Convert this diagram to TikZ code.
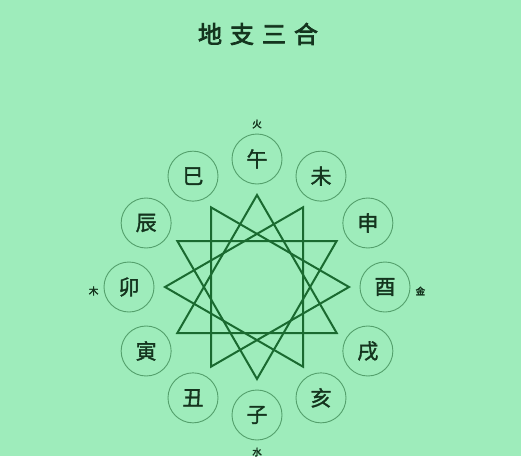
\documentclass[tikz,border=0pt]{standalone}
\usepackage{fontspec}
\newfontfamily\cjk{Noto Sans CJK SC}[FakeBold=1.5]
\newfontfamily\cjkheavy{Noto Sans CJK SC}[FakeBold=3]
\usetikzlibrary{calc}
\usetikzlibrary{positioning}
\definecolor{bgGreen}{RGB}{158,236,187}
\definecolor{starGreen}{RGB}{26,106,48}
\definecolor{ringGreen}{RGB}{84,160,108}
\definecolor{inkGreen}{RGB}{20,52,30}

\begin{document}
\begin{tikzpicture}[x=1pt,y=1pt,
    every node/.style={inner sep=0pt},
    branch/.style={circle, draw=ringGreen, line width=0.9pt, minimum size=50pt,
        text=inkGreen, font=\cjk\fontsize{21}{21}\selectfont},
    element/.style={text=inkGreen, font=\cjkheavy\fontsize{9.5}{9.5}\selectfont},
    star/.style={draw=starGreen, line width=2pt, line join=miter}]
    \fill[bgGreen] (-257,-169) rectangle (264,287);
    \useasboundingbox (-257,-169) rectangle (264,287);
    \coordinate (O) at (0,0);
    \node[text=inkGreen, font=\cjkheavy\fontsize{24}{24}\selectfont] at (1,253) (TITLE) {地\hspace{8pt}支\hspace{8pt}三\hspace{8pt}合};
    % star points
    \foreach \i in {0,...,11}
        \coordinate (S\i) at ($(O)+({90-30*\i}:92)$);
    \foreach \i in {0,...,3}{
        \pgfmathtruncatemacro{\j}{\i+4}
        \pgfmathtruncatemacro{\k}{\i+8}
        \draw[star] (S\i) -- (S\j) -- (S\k) -- cycle;
    }
    % twelve branches
    \foreach \name [count=\i from 0] in {午,未,申,酉,戌,亥,子,丑,寅,卯,辰,巳}
        \node[branch] at ($(O)+({90-30*\i}:128)$) (B\i) {\name};
    \node[element, above=5pt of B0] (FIRE) {火};
    \node[element, right=5pt of B3, yshift=-4pt] (METAL) {金};
    \node[element, below=7pt of B6] (WATER) {水};
    \node[element, left=5pt of B9, yshift=-4pt] (WOOD) {木};
\end{tikzpicture}
\end{document}
